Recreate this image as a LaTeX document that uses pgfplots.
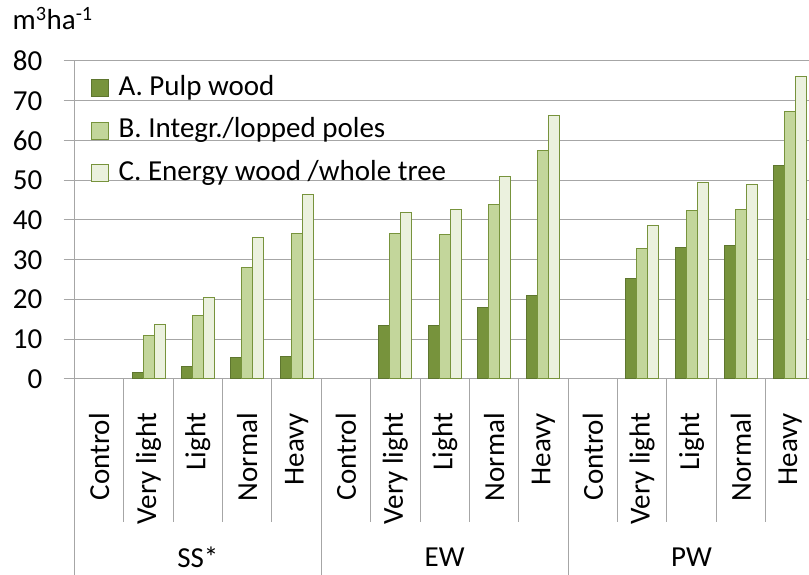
\documentclass[border=0pt]{standalone}
\usepackage{fontspec}
\setmainfont{Carlito}
\usepackage{pgfplots}
\pgfplotsset{compat=1.18}
\definecolor{cA}{HTML}{77933C}
\definecolor{cB}{HTML}{C3D69B}
\definecolor{cC}{HTML}{EBF1DE}
\definecolor{bA}{HTML}{5E762F}
\definecolor{bBC}{HTML}{77933C}
\definecolor{gridc}{HTML}{A6A6A6}
\newcommand\fs{\fontsize{29}{34}\selectfont}
\pgfplotsset{sqleg/.style={legend image code/.code={\draw[##1,/tikz/.cd] (0pt,-8.5pt) rectangle (17pt,8.5pt);}}}
\begin{document}
\begin{tikzpicture}
\begin{axis}[
  scale only axis, width=734.5pt, height=318pt,
  xmin=-0.5, xmax=14.38, ymin=0, ymax=80,
  ybar=0pt, bar width=11pt,
  axis y line*=left, axis x line*=bottom,
  axis line style={draw=gridc, line width=1pt},
  ytick={0,10,...,80}, ymajorgrids,
  grid style={draw=gridc, line width=1pt},
  tick align=outside, major tick length=11pt,
  ytick style={draw=gridc, line width=1pt},
  xtick={0,...,14},
  xticklabels={Control,Very light,Light,Normal,Heavy,Control,Very light,Light,Normal,Heavy,Control,Very light,Light,Normal,Heavy},
  xtick style={draw=none},
  x tick label style={rotate=90, anchor=east, inner sep=0pt},
  xticklabel shift=23pt,
  y tick label style={anchor=east, inner sep=0pt},
  yticklabel shift=21pt,
  tick label style={font=\fs},
  /pgf/number format/assume math mode=true,
  title={m\textsuperscript{3}ha\textsuperscript{-1}},
  title style={at={(axis description cs:0,1)}, anchor=base west, xshift=-62pt, yshift=25pt, inner sep=0pt, font=\fs},
  legend style={at={(axis description cs:0,1)}, anchor=north west, xshift=16pt, yshift=-12pt,
    draw=none, fill=none, inner sep=0pt, font=\fs, row sep=12.5pt, column sep=8pt,
    nodes={inner sep=2pt, text height=20pt, text depth=6pt}},
  legend cell align=left,
  clip=false,
]
\addplot[fill=cA, draw=bA, line width=1pt, sqleg]
  coordinates {(1,1.6)(2,3.2)(3,5.5)(4,5.7)(6,13.5)(7,13.5)(8,17.9)(9,21.1)(11,25.4)(12,33.2)(13,33.5)(14,53.6)};
\addplot[fill=cB, draw=bBC, line width=1pt, sqleg]
  coordinates {(1,11.0)(2,16.0)(3,28.0)(4,36.7)(6,36.6)(7,36.4)(8,43.9)(9,57.4)(11,32.9)(12,42.3)(13,42.6)(14,67.3)};
\addplot[fill=cC, draw=bBC, line width=1pt, sqleg]
  coordinates {(1,13.8)(2,20.5)(3,35.7)(4,46.4)(6,41.9)(7,42.6)(8,51.0)(9,66.3)(11,38.6)(12,49.5)(13,48.9)(14,76.2)};
\legend{A. Pulp wood, B. Integr./lopped poles, C. Energy wood /whole tree}
\pgfplotsinvokeforeach{0.5,1.5,2.5,3.5,5.5,6.5,7.5,8.5,10.5,11.5,12.5,13.5}{
  \draw[gridc, line width=1pt] (axis cs:#1,0) -- ++(0pt,-143pt);
}
\pgfplotsinvokeforeach{-0.5,4.5,9.5}{
  \draw[gridc, line width=1pt] (axis cs:#1,0) -- ++(0pt,-196pt);
}
\node[font=\fs, anchor=center] at ([yshift=-178pt]axis cs:2,0) {SS*};
\node[font=\fs, anchor=center] at ([yshift=-178pt]axis cs:7,0) {EW};
\node[font=\fs, anchor=center] at ([yshift=-178pt]axis cs:12,0) {PW};
\end{axis}
\pgfresetboundingbox
\useasboundingbox ([xshift=-74.5pt,yshift=-196pt]current axis.south west) rectangle ([yshift=61pt]current axis.north east);
\end{tikzpicture}
\end{document}
